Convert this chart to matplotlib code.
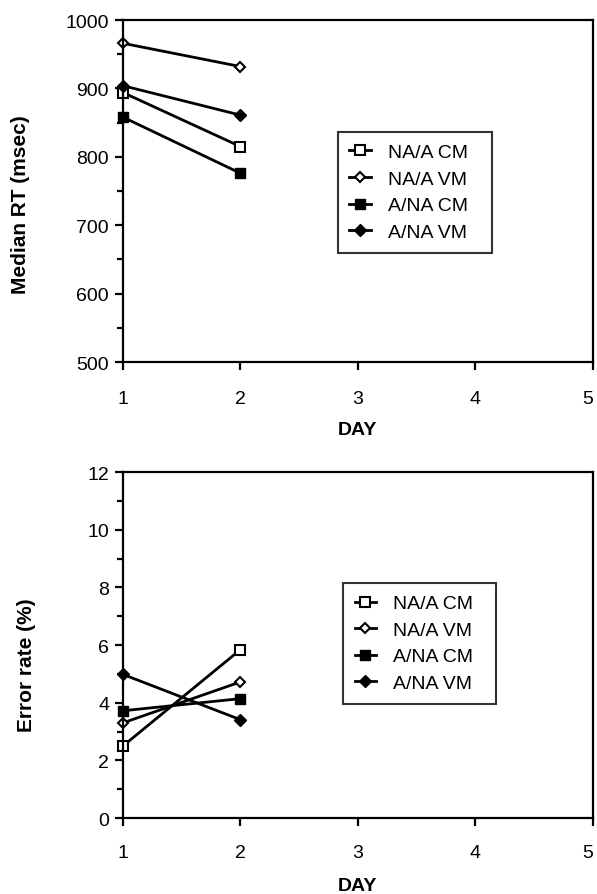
import matplotlib
matplotlib.use("Agg")
import matplotlib.pyplot as plt
from matplotlib.ticker import MultipleLocator

plt.rcParams['font.family'] = ['Liberation Sans', 'DejaVu Sans']

days = [1, 2]
series_names = ["NA/A CM", "NA/A VM", "A/NA CM", "A/NA VM"]
rt_na_a_cm = [894, 815]
rt_na_a_vm = [966, 932]
rt_a_na_cm = [858, 776]
rt_a_na_vm = [904, 861]
err_na_a_cm = [2.5, 5.84]
err_na_a_vm = [3.3, 4.72]
err_a_na_cm = [3.72, 4.14]
err_a_na_vm = [4.98, 3.41]
x_ticks = [1, 2, 3, 4, 5]

styles = [
    dict(marker='s', markersize=7.5, markerfacecolor='white', markeredgecolor='black', markeredgewidth=1.5),
    dict(marker='D', markersize=5, markerfacecolor='white', markeredgecolor='black', markeredgewidth=1.5),
    dict(marker='s', markersize=7.5, markerfacecolor='black', markeredgecolor='black'),
    dict(marker='D', markersize=6.5, markerfacecolor='black', markeredgecolor='black'),
]

fig = plt.figure(figsize=(5.97, 8.95), dpi=100)
ax1 = fig.add_axes([0.206, 0.5944, 0.787, 0.3821])
ax2 = fig.add_axes([0.206, 0.0849, 0.787, 0.3866])

def style_axes(ax, xpad):
    for s in ax.spines.values():
        s.set_linewidth(1.6)
    ax.tick_params(axis='both', which='major', direction='out', length=6, width=1.6, labelsize=14)
    ax.tick_params(axis='y', which='major', pad=4)
    ax.tick_params(axis='x', which='major', pad=xpad)
    ax.tick_params(axis='both', which='minor', direction='out', length=4, width=1.6)
    ax.set_xlim(1, 5)
    ax.set_xticks(x_ticks)
    labels = ax.get_xticklabels()
    labels[-1].set_horizontalalignment('right')

rt = [rt_na_a_cm, rt_na_a_vm, rt_a_na_cm, rt_a_na_vm]
er = [err_na_a_cm, err_na_a_vm, err_a_na_cm, err_a_na_vm]

for name, vals, st in zip(series_names, rt, styles):
    ax1.plot(days, vals, color='black', linewidth=2, label=name, clip_on=False, **st)
for name, vals, st in zip(series_names, er, styles):
    ax2.plot(days, vals, color='black', linewidth=2, label=name, clip_on=False, **st)

style_axes(ax1, 14)
ax1.set_ylim(500, 1000)
ax1.yaxis.set_major_locator(MultipleLocator(100))
ax1.yaxis.set_minor_locator(MultipleLocator(50))
ax1.set_ylabel("Median RT (msec)", fontsize=15, fontweight='bold', va='center', ha='center')
ax1.yaxis.set_label_coords(-0.219, 0.462)
ax1.set_xlabel("DAY", fontsize=14, fontweight='bold', va='center', ha='center')
ax1.xaxis.set_label_coords(0.5, (363 - 430) / 342)

style_axes(ax2, 13)
ax2.set_ylim(0, 12)
ax2.yaxis.set_major_locator(MultipleLocator(2))
ax2.yaxis.set_minor_locator(MultipleLocator(1))
ax2.set_ylabel("Error rate (%)", fontsize=15, fontweight='bold', va='center', ha='center')
ax2.yaxis.set_label_coords(-0.206, 0.445)
ax2.set_xlabel("DAY", fontsize=14, fontweight='bold', va='center', ha='center')
ax2.xaxis.set_label_coords(0.5, (819 - 886) / 346)

for ax, anchor in [(ax1, (0.457, 0.3216, 0.328, 0.351)), (ax2, (0.468, 0.329, 0.326, 0.35))]:
    leg = ax.legend(loc='upper left', bbox_to_anchor=anchor, mode='expand', fontsize=14, frameon=True,
                    fancybox=False, edgecolor='black', handlelength=1.1, handletextpad=0.9,
                    borderpad=0.6, labelspacing=0.46, borderaxespad=0)
    leg.get_frame().set_linewidth(1.5)

fig.savefig("out.png", dpi=100)
